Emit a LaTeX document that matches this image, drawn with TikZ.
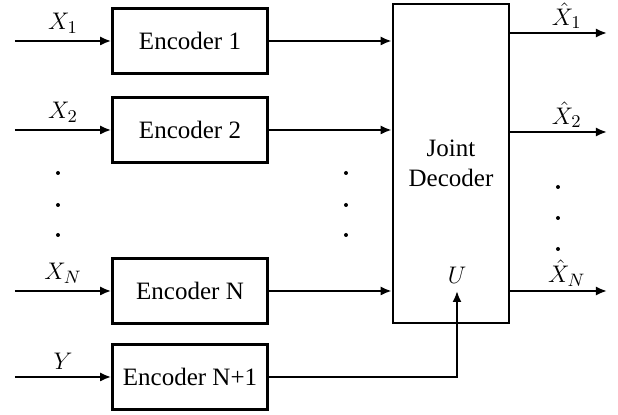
\documentclass[tikz,border=0pt]{standalone}
\usepackage{amsmath}
\usepackage{fontspec}
\setmainfont{Liberation Serif}
\usetikzlibrary{arrows.meta,positioning}

\begin{document}
\begin{tikzpicture}[x=0.5pt,y=-0.5pt,>={Latex[length=5.5pt,width=4.5pt]},font=\fontsize{12.5}{15}\selectfont]
  \tikzstyle{encoder}=[rectangle,draw,line width=1.3pt,
  			  minimum width=77.5pt,minimum height=32.5pt,inner sep=0pt]
  \tikzstyle{decoder}=[encoder,minimum width=58pt,minimum height=159.5pt,align=center]
  \tikzstyle{signal}=[->,line width=1pt]
  \tikzstyle{estimate}=[inner sep=1.5pt]
  \tikzstyle{dot}=[circle,fill,inner sep=0pt,minimum size=2pt]

  \useasboundingbox (0,0) rectangle (618,415);

  % encoders
  \node [encoder] (enc1) at (190,41) {Encoder 1};
  \node [encoder] (enc2) at (190,130) {Encoder 2};
  \node [encoder] (encN) at (190,291) {Encoder N};
  \node [encoder] (encY) at (190,377) {Encoder N+1};

  % joint decoder
  \node [decoder] (dec) at (451,163.5) {Joint\\Decoder};

  % sources
  \coordinate (in1) at (15,41);
  \coordinate (in2) at (15,130);
  \coordinate (inN) at (15,291);
  \coordinate (inY) at (15,377);
  \draw [signal] (in1) -- node[above] {$X_1$} (enc1);
  \draw [signal] (in2) -- node[above] {$X_2$} (enc2);
  \draw [signal] (inN) -- node[above] {$X_N$} (encN);
  \draw [signal] (inY) -- node[above] {$Y$} (encY);

  % encoder outputs
  \draw [signal] (enc1) -- (enc1 -| dec.west);
  \draw [signal] (enc2) -- (enc2 -| dec.west);
  \draw [signal] (encN) -- (encN -| dec.west);
  \coordinate (u) at (457,291);
  \node (ulabel) [above=0pt of u] {$U$};
  \draw [signal] (encY) -| (u);

  % estimates
  \coordinate (out1) at (607,33);
  \coordinate (out2) at (607,132);
  \coordinate (outN) at (607,291);
  \draw [signal] (dec.east |- out1) -- node[above,estimate,xshift=4pt] {$\hat{X}_1$} (out1);
  \draw [signal] (dec.east |- out2) -- node[above,estimate,xshift=4pt] {$\hat{X}_2$} (out2);
  \draw [signal] (dec.east |- outN) -- node[above,estimate,xshift=4pt] {$\hat{X}_N$} (outN);

  % dots
  \foreach \y in {173,205,235} {
    \node [dot] (ldot\y) at (58,\y) {};
    \node [dot] (mdot\y) at (346,\y) {};
  }
  \foreach \y in {187,218,249}
    \node [dot] (rdot\y) at (558,\y) {};
\end{tikzpicture}
\end{document}
